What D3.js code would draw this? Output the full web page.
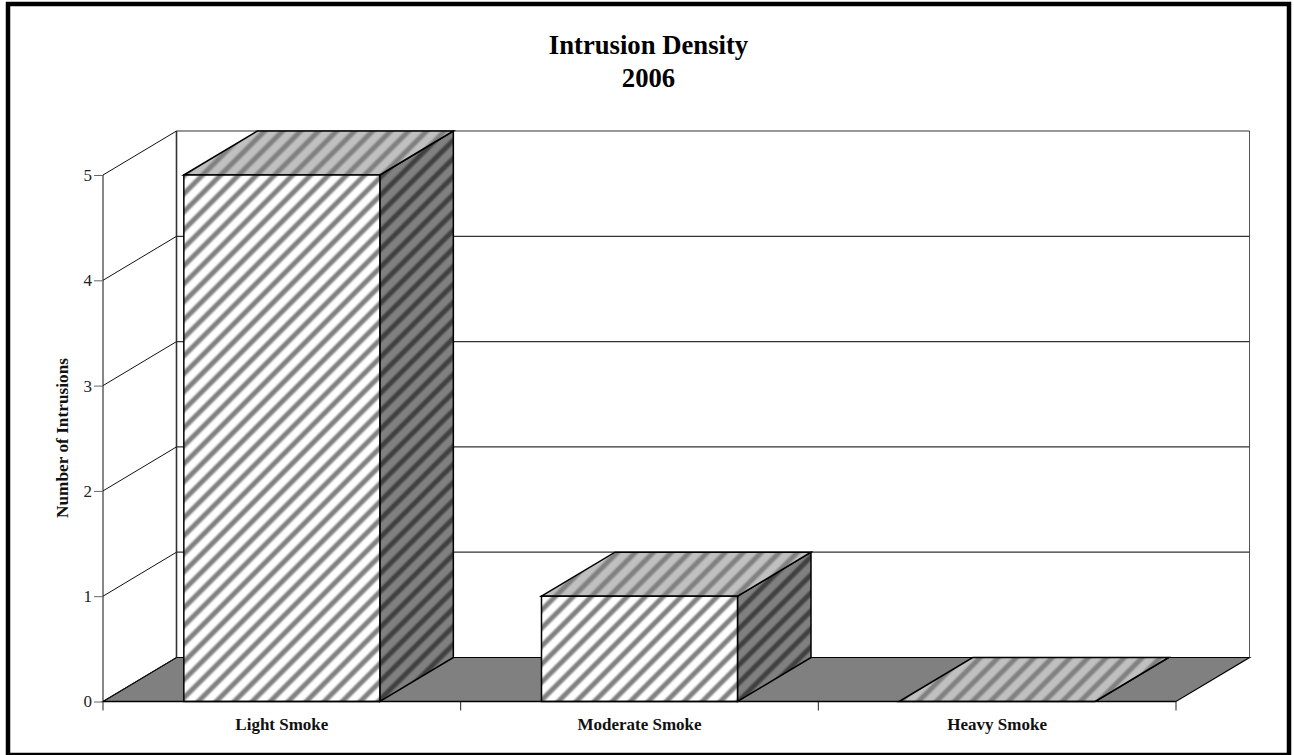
<!DOCTYPE html>
<html lang="en">
  <head>
    <meta charset="UTF-8">
    <script src="https://d3js.org/d3.v7.min.js"></script>
    <title>Intrusion Density</title>
    <style>
      html, body { margin: 0; padding: 0; background: #fff; overflow: hidden; }
      svg { display: block; font-family: "Liberation Serif", serif; }
      .tick-label { font-size: 17px; fill: #222; }
      .cat-label { font-size: 17px; font-weight: 700; fill: #111; }
    </style>
  </head>
  <body>
    <svg id="chart" width="1294" height="755"></svg>
    <script>
      const categories = ['Light Smoke', 'Moderate Smoke', 'Heavy Smoke'];
      const intrusions = [5, 1, 0];
      const yTicks = [0, 1, 2, 3, 4, 5];
      const titleLines = ['Intrusion Density', '2006'];
      const yTitle = 'Number of Intrusions';

      // front plane of the fake 3d box, back plane is shifted by depth
      const plotLeft = 103, plotRight = 1176, plotBottom = 701.5, plotTop = 175;
      const dx = 73.5, dy = -44;

      const svg = d3.select('#chart');
      const x = d3.scaleBand().domain(categories).range([plotLeft, plotRight])
        .paddingInner(0.452).paddingOuter(0.226);
      const y = d3.scaleLinear().domain([0, 5]).range([plotBottom, plotTop]);

      const poly = pts => pts.map(p => p.join(',')).join(' ');

      // striped fills
      const defs = svg.append('defs');
      const addStripes = (id, base, stripe) => {
        const period = 12.73;
        const grad = defs.append('linearGradient').attr('id', id + '-g')
          .attr('x1', 0).attr('x2', 1).attr('y1', 0).attr('y2', 0);
        [[0, base], [0.24, base], [0.44, stripe], [0.63, stripe], [0.83, base], [1, base]]
          .forEach(s => grad.append('stop').attr('offset', s[0]).attr('stop-color', s[1]));
        defs.append('pattern').attr('id', id)
          .attr('patternUnits', 'userSpaceOnUse')
          .attr('width', period).attr('height', period)
          .attr('patternTransform', 'translate(192 176) rotate(45)')
          .append('rect').attr('width', period).attr('height', period)
          .attr('fill', `url(#${id}-g)`);
      };
      addStripes('front', '#ffffff', '#808080');
      addStripes('topFace', '#c0c0c0', '#808080');
      addStripes('side', '#808080', '#404040');

      // outer frame
      svg.append('rect').attr('x', 8).attr('y', 4).attr('width', 1281).attr('height', 751)
        .attr('fill', '#fff').attr('stroke', '#000').attr('stroke-width', 4.5);

      // title
      svg.append('g').selectAll('text').data(titleLines).join('text')
        .attr('x', 648.5).attr('y', (d, i) => 53.5 + i * 33)
        .attr('text-anchor', 'middle')
        .attr('font-size', 26.7).attr('font-weight', 700).attr('fill', '#000')
        .text(d => d);

      // floor
      svg.append('polygon')
        .attr('points', poly([[plotLeft, plotBottom], [plotLeft + dx, plotBottom + dy], [plotRight + dx, plotBottom + dy], [plotRight, plotBottom]]))
        .attr('fill', '#808080').attr('stroke', '#000').attr('stroke-width', 1.2);

      // back wall and side wall
      const wall = svg.append('g').attr('fill', 'none');
      wall.append('line').attr('x1', plotLeft + dx).attr('x2', plotLeft + dx)
        .attr('y1', plotTop + dy).attr('y2', plotBottom + dy).attr('stroke', '#333').attr('stroke-width', 1.6);
      wall.append('line').attr('x1', plotRight + dx).attr('x2', plotRight + dx)
        .attr('y1', plotTop + dy).attr('y2', plotBottom + dy).attr('stroke', '#555').attr('stroke-width', 1);
      wall.selectAll('.grid').data(yTicks.filter(d => d > 0)).join('line')
        .attr('class', 'grid')
        .attr('x1', plotLeft + dx).attr('x2', plotRight + dx)
        .attr('y1', d => y(d) + dy).attr('y2', d => y(d) + dy)
        .attr('stroke', '#333').attr('stroke-width', 1.2);
      wall.selectAll('.slant').data(yTicks).join('line')
        .attr('class', 'slant')
        .attr('x1', plotLeft).attr('x2', plotLeft + dx)
        .attr('y1', d => y(d)).attr('y2', d => y(d) + dy)
        .attr('stroke', '#111').attr('stroke-width', 1);

      // y axis
      const yAxis = svg.append('g').attr('transform', `translate(${plotLeft},0)`)
        .call(d3.axisLeft(y).tickValues(yTicks).tickFormat(d3.format('d')).tickSize(9).tickPadding(2));
      yAxis.selectAll('line').attr('stroke', '#666');
      yAxis.select('.domain').attr('stroke', '#111').attr('d', `M0,${plotTop}V${plotBottom}`);
      yAxis.selectAll('text').attr('class', 'tick-label');
      yAxis.attr('font-family', null).attr('font-size', null);

      svg.append('text')
        .attr('transform', 'translate(67.5,438) rotate(-90)')
        .attr('text-anchor', 'middle')
        .attr('font-size', 17.3).attr('font-weight', 700).attr('fill', '#111')
        .text(yTitle);

      // x axis, ticks sit between the categories
      const tickPos = d3.range(categories.length + 1).map(i => plotLeft + i * x.step());
      const xTicks = svg.append('g').attr('transform', `translate(0,${plotBottom})`);
      xTicks.selectAll('line').data(tickPos).join('line')
        .attr('x1', d => d).attr('x2', d => d).attr('y1', 0).attr('y2', 9)
        .attr('stroke', '#222');
      const xLabels = svg.append('g').attr('transform', `translate(0,${plotBottom})`)
        .call(d3.axisBottom(x).tickSize(0).tickPadding(16));
      xLabels.select('.domain').remove();
      xLabels.selectAll('text').attr('class', 'cat-label');
      xLabels.attr('font-family', null).attr('font-size', null);

      // bars
      const bars = svg.append('g').selectAll('g').data(categories).join('g');
      const w = x.bandwidth();
      const val = (i) => y(intrusions[i]);
      bars.append('polygon').attr('fill', 'url(#side)')
        .attr('points', (d, i) => poly([[x(d) + w, val(i)], [x(d) + w + dx, val(i) + dy], [x(d) + w + dx, plotBottom + dy], [x(d) + w, plotBottom]]))
        .attr('stroke', '#000').attr('stroke-width', 1.5);
      bars.append('polygon').attr('fill', 'url(#topFace)')
        .attr('points', (d, i) => poly([[x(d), val(i)], [x(d) + dx, val(i) + dy], [x(d) + w + dx, val(i) + dy], [x(d) + w, val(i)]]))
        .attr('stroke', '#000').attr('stroke-width', 1.5);
      bars.append('rect').attr('fill', 'url(#front)')
        .attr('x', d => x(d)).attr('width', w)
        .attr('y', (d, i) => val(i)).attr('height', (d, i) => plotBottom - val(i))
        .attr('stroke', '#000').attr('stroke-width', 1.5);

      // front edge of the floor drawn over the bars
      svg.append('line').attr('x1', plotLeft).attr('x2', plotRight).attr('y1', plotBottom).attr('y2', plotBottom)
        .attr('stroke', '#000').attr('stroke-width', 1.5);
    </script>
  </body>
</html>
